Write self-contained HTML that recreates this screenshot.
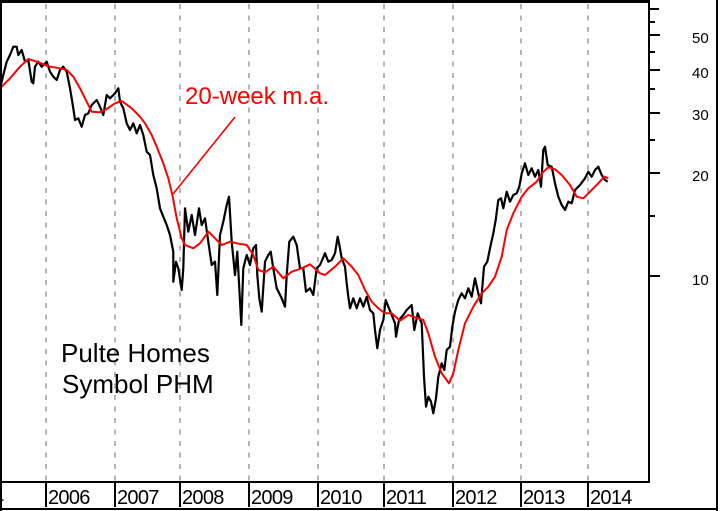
<!DOCTYPE html>
<html>
<head>
<meta charset="utf-8">
<style>
  html, body { margin:0; padding:0; background:#fff; }
  body { width:720px; height:511px; overflow:hidden; }
  svg { display:block; }
  text { font-family: "Liberation Sans", Arial, sans-serif; }
</style>
</head>
<body>
<svg width="720" height="511" viewBox="0 0 720 511" xmlns="http://www.w3.org/2000/svg">
  <rect x="0" y="0" width="720" height="511" fill="#fff"/>

  <!-- dashed vertical gridlines -->
  <g stroke="#b4b4b4" stroke-width="2" stroke-dasharray="5 6.5" shape-rendering="crispEdges">
    <line x1="46" y1="4" x2="46" y2="481"/>
    <line x1="115" y1="4" x2="115" y2="481"/>
    <line x1="180" y1="4" x2="180" y2="481"/>
    <line x1="249" y1="4" x2="249" y2="481"/>
    <line x1="318" y1="4" x2="318" y2="481"/>
    <line x1="384" y1="4" x2="384" y2="481"/>
    <line x1="453" y1="4" x2="453" y2="481"/>
    <line x1="521" y1="4" x2="521" y2="481"/>
    <line x1="588" y1="4" x2="588" y2="481"/>
  </g>

  <!-- price series -->
  <polyline fill="none" stroke="#000" stroke-width="2.2" stroke-linejoin="round" points="0,88 1.7,81.7 3.3,75 6.7,61.7 10,55 13.3,46.7 16.7,46.7 18.3,55 21.7,50 25,61.7 28.3,60 31.7,81.7 33.3,83.3 35,66.7 38.3,61.7 41.7,66.7 46.7,61.7 50,71.7 53.3,76.7 56.7,80 60,70 63.3,66.7 66.7,71.7 70,88.3 71.7,98.3 73.3,108.3 75,120 78.3,118.3 81.7,126.7 85,115 88.3,113.3 91.7,105 96.7,100 100,106.7 103.3,115 106.7,95 110,98.3 115,93.3 118.3,88.3 120,101.7 123.3,108.3 126.7,123.3 130,130 133.3,123.3 136.7,133.3 140,125 143.3,135 146.7,151.7 150,155 153.3,175 156.7,188.3 160,208.3 163.3,216.7 166.7,225 170,235 173.3,251.7 173.3,281.7 176,261.7 178.3,268.3 181.7,290 183.3,268.3 185,208.3 188.3,231.7 191.7,215 195,235 199,208.3 201.7,225 205,218.3 208.3,241.7 211.7,265 215,261.7 217.3,295 220,235 223.3,221.7 226.7,205 229,196.7 231.7,241.7 235,275 237.3,251.7 239.3,288.3 241.3,325 243.3,268.3 246.7,255 250,265 253.3,248.3 256,245 257.3,275 259.3,298.3 261.7,311.7 265,261.7 268.3,255 270.7,251.7 273.3,268.3 276.7,288.3 281.7,298.3 285,306.7 286.7,275 289.3,241.7 293.3,236.7 296.7,245 300,268.3 303.3,268.3 306,291.7 310,288.3 313.3,295 316.7,268.3 320,265 325,253.3 328.3,261.7 331.7,260 335,253.3 337.7,236.7 340,248.3 341.7,258.3 345,266.7 346.7,283.3 348.3,296.7 350,308.3 353.3,298.3 356.7,308.3 360,298.3 363.3,306.7 366.7,296.7 370,310 373.3,313.3 375,330 377.3,348.3 380,330 383.3,320 385.7,300 388.3,306.7 391.7,315 395,323.3 396,336.7 399,320 403.3,315 406.7,310 411.7,305 414.3,330 417.7,313.3 421.7,323.3 424,376.7 426,406.7 428.3,396.7 431,401.7 433.3,413.3 436,398.3 438.3,376.7 441.7,363.3 444.3,370 446.7,350 450,346.7 452.3,326.7 455,311.7 458.3,300 461.7,293.3 465,298.3 468.3,288.3 471.7,296.7 475,278.3 478.3,293.3 481,303.3 484,266.7 487.3,261.7 490,248.3 493.3,233.3 495.7,220 498.3,200 501,198.3 503.3,208.3 506.7,191.7 510,201.7 513.3,195 516.7,193.3 519.3,186.7 521.7,173.3 525,163.3 528.3,175 531.7,168.3 535,176.7 538.3,170 541,186.7 543.3,150 545,146.7 547.7,165 551.7,166.7 555,183.3 558.3,196.7 561.7,205 565,210 568.3,201.7 571.7,203.3 575,190 580,185 585,178.3 588.3,171.7 591.7,176.7 595,170 598.3,166.7 601.7,175 605,180 607.7,181.7"/>

  <!-- 20-week moving average -->
  <polyline fill="none" stroke="#ff0000" stroke-width="2" stroke-linejoin="round" points="0,88 1.7,86.7 10,78.3 20,66.7 28.3,59 36.7,61.7 50,66.7 60,68.3 66.7,70 73.3,76.7 80,88.3 86.7,101.7 91.7,111.7 100,112.3 106.7,109 115,103.3 121.7,101 131.7,108.3 140,116.7 145,123.3 151.7,135 156.7,146.7 163.3,163.3 168.3,178.3 172.7,196.7 176.7,218.3 181.7,238.3 185,245 193.3,248.3 200,243.3 208.3,231.7 215,238.3 221.7,245 230,241.7 236.7,243.3 246.7,245 253.3,255 258.3,270 265,272.3 273.3,266.7 283.3,278.3 291.7,271.7 301.7,268.3 310,264.3 320,273.3 325,275 335,266.7 343.3,258.3 351.7,266.7 358.3,275 365,290 371.7,301.7 378.3,308.3 385,313.3 391.7,313.3 400,320.7 408.3,315 418.3,318.3 423.3,320 428.3,333.3 435,356.7 441.7,373.3 449,383.3 453.3,373.3 458.3,350 465,323.3 473.3,306.7 481.7,293.3 488.3,286.7 495,276.7 501.7,256.7 506.7,230 513.3,213.3 521.7,196.7 528.3,188.3 536.7,181.7 543.3,171.7 548.3,167.3 555,169.3 561.7,175 570,185 576.7,196.7 583.3,198.3 590,191.7 598.3,183.3 604.3,176.7 608.3,178.3"/>

  <!-- annotation -->
  <line x1="235" y1="117" x2="173" y2="194" stroke="#ff0000" stroke-width="1.6"/>
  <text x="185" y="104" font-size="24" fill="#ff0000">20-week m.a.</text>

  <text x="61" y="362" font-size="26" fill="#000">Pulte Homes</text>
  <text x="62" y="393" font-size="26" fill="#000">Symbol PHM</text>

  <!-- plot frame -->
  <g stroke="#000" shape-rendering="crispEdges">
    <line x1="0" y1="1.5" x2="650" y2="1.5" stroke-width="3"/>
    <line x1="1" y1="0" x2="1" y2="511" stroke-width="2"/>
    <line x1="649" y1="0" x2="649" y2="483" stroke-width="2"/>
    <line x1="0" y1="482" x2="650" y2="482" stroke-width="2"/>
    <!-- outer frame -->
    <line x1="717" y1="0" x2="717" y2="511" stroke-width="2"/>
    <line x1="0" y1="509" x2="718" y2="509" stroke-width="2"/>
  </g>

  <!-- y-axis ticks -->
  <g stroke="#000" stroke-width="2" shape-rendering="crispEdges">
    <line x1="649" y1="9" x2="659" y2="9"/>
    <line x1="649" y1="22" x2="655" y2="22"/>
    <line x1="649" y1="35" x2="660" y2="35"/>
    <line x1="649" y1="52" x2="655" y2="52"/>
    <line x1="649" y1="70" x2="660" y2="70"/>
    <line x1="649" y1="89" x2="655" y2="89"/>
    <line x1="649" y1="113" x2="660" y2="113"/>
    <line x1="649" y1="140" x2="655" y2="140"/>
    <line x1="649" y1="173" x2="660" y2="173"/>
    <line x1="649" y1="216" x2="655" y2="216"/>
    <line x1="649" y1="276" x2="660" y2="276"/>
  </g>
  <g font-size="15" fill="#000">
    <text x="692" y="43">50</text>
    <text x="692" y="78">40</text>
    <text x="692" y="120">30</text>
    <text x="692" y="181">20</text>
    <text x="692" y="285">10</text>
  </g>

  <!-- x-axis ticks and labels -->
  <g stroke="#000" stroke-width="2" shape-rendering="crispEdges">
    <line x1="46" y1="482" x2="46" y2="507"/>
    <line x1="115" y1="482" x2="115" y2="507"/>
    <line x1="180" y1="482" x2="180" y2="507"/>
    <line x1="249" y1="482" x2="249" y2="507"/>
    <line x1="318" y1="482" x2="318" y2="507"/>
    <line x1="384" y1="482" x2="384" y2="507"/>
    <line x1="453" y1="482" x2="453" y2="507"/>
    <line x1="521" y1="482" x2="521" y2="507"/>
    <line x1="588" y1="482" x2="588" y2="507"/>
  </g>
  <g font-size="20" fill="#000" letter-spacing="-0.7">
    <text x="-7" y="504">4</text>
    <text x="48" y="504">2006</text>
    <text x="117" y="504">2007</text>
    <text x="182" y="504">2008</text>
    <text x="251" y="504">2009</text>
    <text x="320" y="504">2010</text>
    <text x="386" y="504">2011</text>
    <text x="455" y="504">2012</text>
    <text x="523" y="504">2013</text>
    <text x="590" y="504">2014</text>
  </g>
</svg>
</body>
</html>
